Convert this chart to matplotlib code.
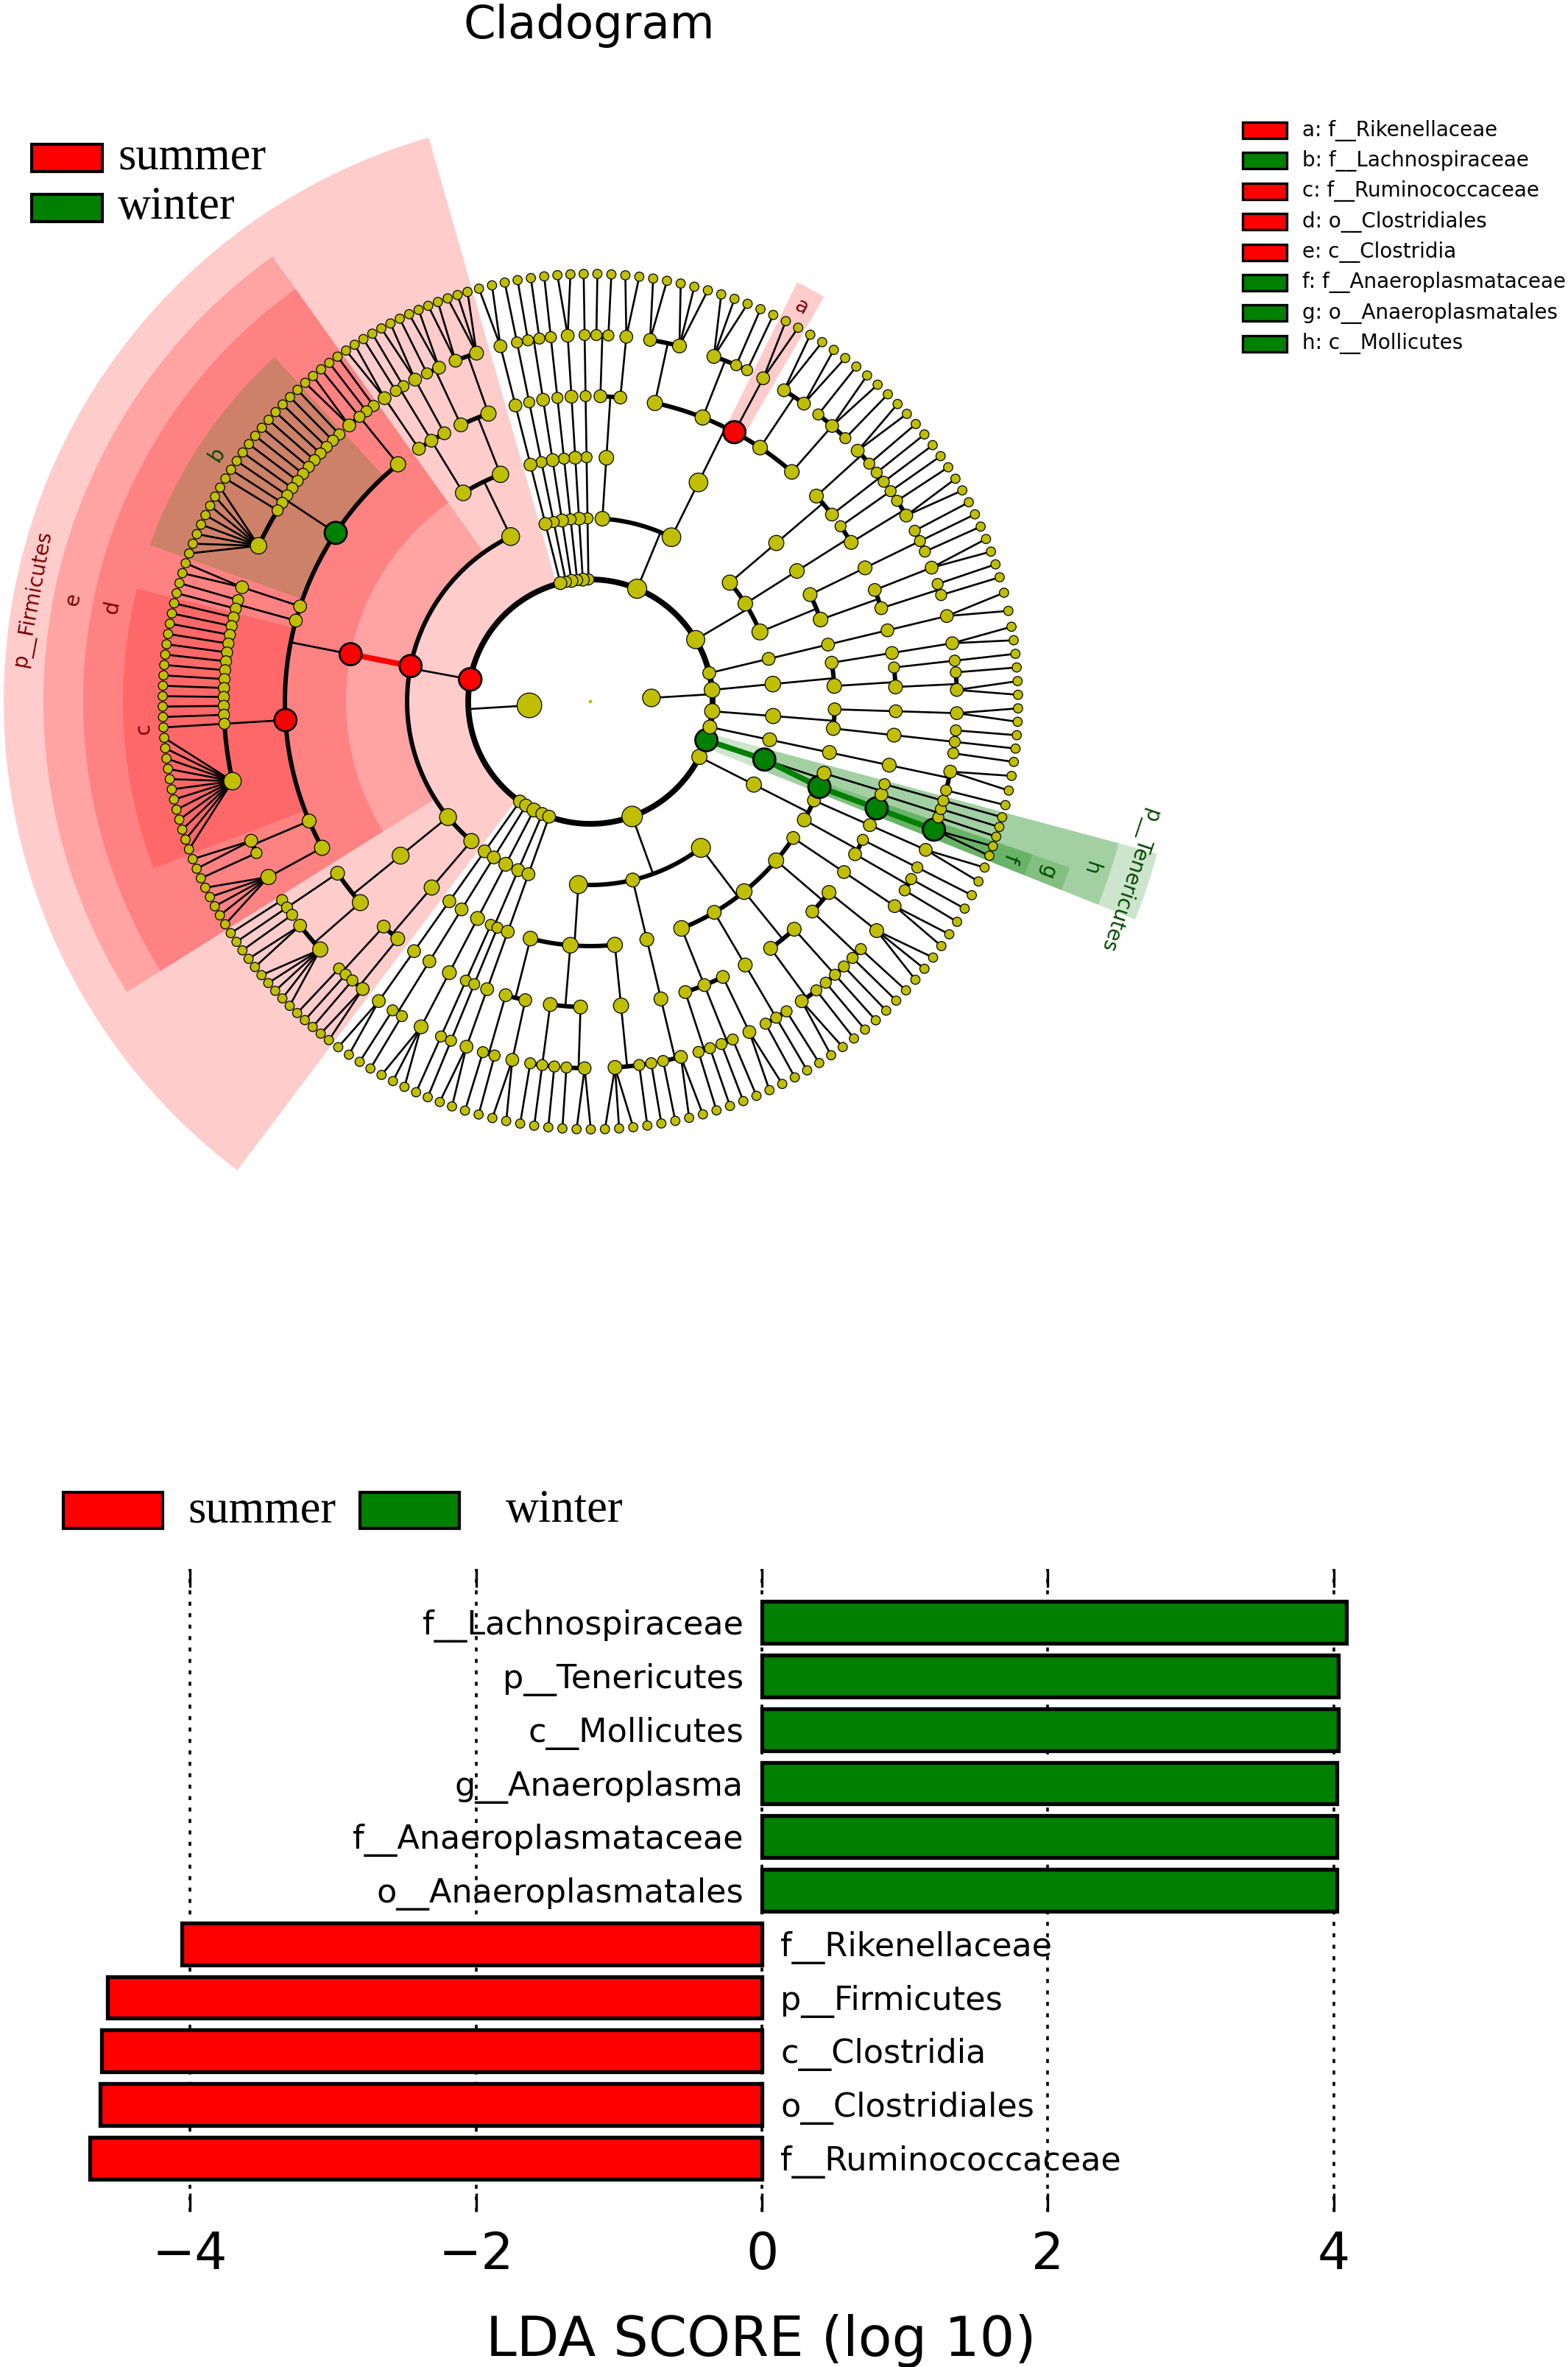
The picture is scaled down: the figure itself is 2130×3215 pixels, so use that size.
import numpy as np
import matplotlib
matplotlib.use("Agg")
import matplotlib.pyplot as plt
from matplotlib.patches import Wedge, Rectangle

W, H, DPI = 2130, 3215, 100

# ======================= DATA =======================
# Cladogram. Phyla in counter-clockwise order. Each phylum is nested as
# classes > orders > families > genera, a genus being the number of its species.
PHYLUM_NAMES = ["p__Actinobacteria", "p__Bacteroidetes",
                "p__Cyanobacteria", "p__Elusimicrobia", "p__Fibrobacteres",
                "p__Lentisphaerae", "p__Planctomycetes", "p__Chloroflexi",
                "p__Firmicutes",
                "p__Spirochaetes", "p__Synergistetes", "p__TM7", "p__WPS_2",
                "p__Fusobacteria",
                "p__Proteobacteria", "p__Verrucomicrobia", "p__Tenericutes",
                "p__SR1", "p__Euryarchaeota", "p__Crenarchaeota", "p__Parvarchaeota"]
PHYLUM_KINGDOM = ["k__Bacteria"] * 18 + ["k__Archaea"] * 3
PHYLUM_START = [16.0, 45.0, 90.0, 91.8, 95.3, 97.1, 100.7, 102.4, 106.0,
                233.0, 236.5, 239.9, 245.1, 248.5, 252.0, 328.0, 338.2,
                345.0, 351.0, 360.0, 371.0]
PHYLUM_END = [45.0, 90.0, 91.8, 95.3, 97.1, 100.7, 102.4, 106.0, 233.0,
              236.5, 239.9, 245.1, 248.5, 252.0, 328.0, 338.2, 345.0,
              351.0, 360.0, 371.0, 376.0]
PHYLUM_TREES = [
    [[[[1, 1], [2]], [[1, 1, 1]]], [[[2, 1], [1]]], [[[1, 1], [1, 2]]]],
    [[[[1, 2, 1], [2, 2], [2], [1, 1, 3], [3, 2]]], [[[2], [1, 1]]]],
    [[[[1]]]], [[[[2]]]], [[[[1]]]], [[[[1, 1]]]], [[[[1]]]], [[[[2]]]],
    [[[[3, 2], [2, 1]], [[2], [1, 1], [2]]],
     [[[1, 1, 1, 2],
       [1, 1, 1, 1, 1, 1, 1, 1, 1, 1, 1, 1, 8],
       [2], [1, 1],
       [1, 1, 1, 1, 1, 1, 1, 1, 1, 1, 1, 1, 1, 12],
       [2, 1], [5]]],
     [[[1, 1, 1], [2, 5]]],
     [[[1, 1], [1, 2]]]],
    [[[[2]]]], [[[[1, 1]]]], [[[[3]]]], [[[[1]], [[1]]]], [[[[2]]]],
    [[[[1, 1], [2]], [[1, 1, 1], [1, 2]], [[3, 1, 1]]],
     [[[1, 2]]],
     [[[1, 1], [1, 1], [2]], [[1, 1, 1]], [[2, 1], [1, 1, 1]], [[1, 1], [3]], [[2]]]],
    [[[[1, 1], [1]], [[2]]]],
    [[[[2]], [[1, 1], [1]]]],
    [[[[1, 2]]]],
    [[[[1, 1, 1]], [[2]]]],
    [[[[2, 1], [1]], [[2]]]],
    [[[[2]]]],
]

# Biomarkers shown on the cladogram
HL_PHYLUM = ["p__Firmicutes", "p__Firmicutes", "p__Firmicutes", "p__Firmicutes",
             "p__Firmicutes", "p__Bacteroidetes", "p__Tenericutes", "p__Tenericutes",
             "p__Tenericutes", "p__Tenericutes", "p__Tenericutes"]
HL_PATH = [(), (1,), (1, 0), (1, 0, 4), (1, 0, 1), (0, 0, 2), (), (0,), (0, 0),
           (0, 0, 0), (0, 0, 0, 0)]
HL_NAME = ["p__Firmicutes", "c__Clostridia", "o__Clostridiales", "f__Ruminococcaceae",
           "f__Lachnospiraceae", "f__Rikenellaceae", "p__Tenericutes", "c__Mollicutes",
           "o__Anaeroplasmatales", "f__Anaeroplasmataceae", "g__Anaeroplasma"]
HL_CLASS = ["summer", "summer", "summer", "summer", "winter", "summer",
            "winter", "winter", "winter", "winter", "winter"]
HL_LETTER = ["", "e", "d", "c", "b", "a", "", "h", "g", "f", None]
HL_EDGES = [("c__Clostridia", "o__Clostridiales"),
            ("p__Tenericutes", "c__Mollicutes"),
            ("c__Mollicutes", "o__Anaeroplasmatales"),
            ("o__Anaeroplasmatales", "f__Anaeroplasmataceae"),
            ("f__Anaeroplasmataceae", "g__Anaeroplasma")]

CLADO_KEY_TEXT = ["a: f__Rikenellaceae", "b: f__Lachnospiraceae", "c: f__Ruminococcaceae",
                  "d: o__Clostridiales", "e: c__Clostridia", "f: f__Anaeroplasmataceae",
                  "g: o__Anaeroplasmatales", "h: c__Mollicutes"]
CLADO_KEY_CLASS = ["summer", "winter", "summer", "summer", "summer", "winter", "winter", "winter"]

# LDA bar chart (top to bottom)
BAR_LABELS = ["f__Lachnospiraceae", "p__Tenericutes", "c__Mollicutes", "g__Anaeroplasma",
              "f__Anaeroplasmataceae", "o__Anaeroplasmatales", "f__Rikenellaceae",
              "p__Firmicutes", "c__Clostridia", "o__Clostridiales", "f__Ruminococcaceae"]
BAR_LDA = [4.09, 4.03, 4.03, 4.02, 4.02, 4.02, -4.06, -4.58, -4.62, -4.63, -4.70]
BAR_CLASS = ["winter"] * 6 + ["summer"] * 5
BAR_TICKS = [-4, -2, 0, 2, 4]

CLASSES = ["summer", "winter"]
CLASS_COLOR = {"summer": "#FF0000", "winter": "#008000"}
LABEL_COLOR = {"summer": "#7a0000", "winter": "#004a00"}
NODE_COLOR = "#BFBF00"

# ======================= FIGURE =======================
fig = plt.figure(figsize=(W / DPI, H / DPI), dpi=DPI)


def fx(px):
    return px / W


def fy(py):
    return 1 - py / H


# ---------------- build tree ----------------
nodes = []


def add(level, theta, lo, hi, n):
    nodes.append(dict(level=level, theta=theta, lo=lo, hi=hi, n=n, ch=[]))
    return len(nodes) - 1


def count(spec, level):
    if level == 6:
        return spec
    return sum(count(s, level + 1) for s in spec)


def build(spec, level, a0, s):
    if level == 6:
        k = spec
        idx = add(6, a0 + k * s / 2, a0, a0 + k * s, k)
        for j in range(k):
            c = add(7, a0 + (j + 0.5) * s, a0 + j * s, a0 + (j + 1) * s, 1)
            nodes[idx]["ch"].append(c)
        return idx, k
    ch, n, a = [], 0, a0
    for sub in spec:
        c, m = build(sub, level + 1, a, s)
        ch.append(c)
        a += m * s
        n += m
    idx = add(level, a0 + n * s / 2, a0, a0 + n * s, n)
    nodes[idx]["ch"] = ch
    return idx, n


phylum_idx = {}
for name, a0, a1, tree in zip(PHYLUM_NAMES, PHYLUM_START, PHYLUM_END, PHYLUM_TREES):
    n = count(tree, 2)
    idx, _ = build(tree, 2, a0, (a1 - a0) / n)
    phylum_idx[name] = idx

kingdoms = []
for kname in ["k__Bacteria", "k__Archaea"]:
    ch = [phylum_idx[p] for p, k in zip(PHYLUM_NAMES, PHYLUM_KINGDOM) if k == kname]
    lo = min(nodes[c]["lo"] for c in ch)
    hi = max(nodes[c]["hi"] for c in ch)
    n = sum(nodes[c]["n"] for c in ch)
    ki = add(1, (lo + hi) / 2, lo, hi, n)
    nodes[ki]["ch"] = ch
    kingdoms.append(ki)
root = add(0, 0.0, 0.0, 360.0, sum(nodes[k]["n"] for k in kingdoms))
nodes[root]["ch"] = kingdoms

hl_node = {}
for pname, path, name in zip(HL_PHYLUM, HL_PATH, HL_NAME):
    i = phylum_idx[pname]
    for p in path:
        i = nodes[i]["ch"][p]
    hl_node[name] = i

# ---------------- cladogram axes ----------------
CX, CY, STEP, HALF = 802, 953, 83.0, 850
axc = fig.add_axes([fx(CX - HALF), fy(CY + HALF), 2 * HALF / W, 2 * HALF / H])
lim = HALF / STEP
axc.set_xlim(-lim, lim)
axc.set_ylim(-lim, lim)
axc.set_axis_off()


def pol(r, t):
    tr = np.radians(t)
    return r * np.cos(tr), r * np.sin(tr)


def arc(r, t1, t2, **kw):
    t = np.radians(np.linspace(t1, t2, max(3, int(abs(t2 - t1) * 4))))
    axc.plot(r * np.cos(t), r * np.sin(t), solid_capstyle="butt", **kw)


def seg(p, q, **kw):
    axc.plot([p[0], q[0]], [p[1], q[1]], **kw)


LEAF_R = 7.0
BAND = 54.0 / STEP

# shaded clades
order = sorted(range(len(HL_NAME)), key=lambda k: nodes[hl_node[HL_NAME[k]]]["level"])
for k in order:
    if HL_LETTER[k] is None:
        continue
    nd = nodes[hl_node[HL_NAME[k]]]
    lev = nd["level"]
    r_out = LEAF_R + (6 - lev) * BAND
    col = CLASS_COLOR[HL_CLASS[k]]
    axc.add_patch(Wedge((0, 0), r_out, nd["lo"], nd["hi"], width=r_out - lev,
                        facecolor=col, alpha=0.2, edgecolor="none", zorder=1))
    txt = HL_NAME[k] if HL_LETTER[k] == "" else HL_LETTER[k]
    mid = (nd["lo"] + nd["hi"]) / 2
    x, y = pol(r_out - BAND / 2, mid)
    axc.text(x, y, txt, rotation=mid - 90, rotation_mode="anchor", ha="center",
             va="center", fontsize=20, color=LABEL_COLOR[HL_CLASS[k]], zorder=6)

# branches
THIN, THICK = 1.9, 4.3
arc(2.0, 0, 360, color="k", lw=5.6, zorder=2)
for nd in nodes:
    lev = nd["level"]
    if lev < 1 or not nd["ch"]:
        continue
    ch = nd["ch"]
    if lev == 1:
        seg(pol(1, nd["theta"]), pol(2, nd["theta"]), color="k", lw=THIN, zorder=2)
        continue
    if len(ch) == 1 or lev == 6:
        for c in ch:
            seg(pol(lev, nd["theta"]), pol(lev + 1, nodes[c]["theta"]),
                color="k", lw=THIN, zorder=2)
    else:
        seg(pol(lev, nd["theta"]), pol(lev + 1, nd["theta"]), color="k", lw=THIN, zorder=2)
        ts = [nodes[c]["theta"] for c in ch]
        arc(lev + 1, min(ts), max(ts), color="k", lw=THICK, zorder=2)

hl_class_of = dict(zip(HL_NAME, HL_CLASS))
for a, b in HL_EDGES:
    na, nb = nodes[hl_node[a]], nodes[hl_node[b]]
    seg(pol(na["level"], na["theta"]), pol(nb["level"], nb["theta"]),
        color=CLASS_COLOR[hl_class_of[b]], lw=5.5, solid_capstyle="butt", zorder=3)

# nodes
node_col = {i: NODE_COLOR for i in range(len(nodes))}
hl_set = {}
for name, cls in zip(HL_NAME, HL_CLASS):
    node_col[hl_node[name]] = CLASS_COLOR[cls]
    hl_set[hl_node[name]] = cls

xs, ys, ss, cs, lws = [], [], [], [], []
for i in sorted(range(len(nodes)), key=lambda j: -nodes[j]["level"]):
    nd = nodes[i]
    x, y = pol(nd["level"], nd["theta"])
    if nd["level"] == 0:
        d = 5.0
    elif nd["level"] == 7:
        d = 12.5
    else:
        d = 15.0 + 8.0 * np.log10(nd["n"])
    if i in hl_set:
        d = max(d, 30.0)
    xs.append(x); ys.append(y)
    ss.append((d * 72 / DPI) ** 2)
    cs.append(node_col[i])
    lws.append(2.0 if i in hl_set else (0.0 if nd["level"] == 0 else 0.9))
axc.scatter(xs, ys, s=ss, c=cs, edgecolors="k", linewidths=lws, zorder=4)

# ---------------- titles / legends of cladogram ----------------
fig.text(fx(800), fy(52), "Cladogram", ha="center", va="baseline", fontsize=45)


def fig_rect(x0, y0, w, h, col, lw):
    fig.add_artist(Rectangle((fx(x0), fy(y0 + h)), w / W, h / H, transform=fig.transFigure,
                             facecolor=col, edgecolor="k", lw=lw))


for i, cls in enumerate(CLASSES):
    y0 = 196 + 68 * i
    fig_rect(43, y0, 96, 37, CLASS_COLOR[cls], 3.0)
    fig.text(fx(160), fy(y0 + 18), cls, ha="left", va="center", fontsize=45,
             family="Liberation Serif")

for i, (t, cls) in enumerate(zip(CLADO_KEY_TEXT, CLADO_KEY_CLASS)):
    yc = 177 + 41.4 * i
    fig_rect(1688, yc - 11, 60, 22, CLASS_COLOR[cls], 2.4)
    fig.text(fx(1769), fy(yc), t, ha="left", va="center", fontsize=20)

# ---------------- LDA bar chart ----------------
AX_L, AX_R, AX_T, AX_B = 40, 2028, 2131, 3004
X0_PX, UNIT = 1035, 194.2
axb = fig.add_axes([fx(AX_L), fy(AX_B), (AX_R - AX_L) / W, (AX_B - AX_T) / H])
axb.set_xlim((AX_L - X0_PX) / UNIT, (AX_R - X0_PX) / UNIT)
axb.set_ylim(len(BAR_LABELS), -1)
ypos = np.arange(len(BAR_LABELS))
axb.barh(ypos, BAR_LDA, height=0.78, color=[CLASS_COLOR[c] for c in BAR_CLASS],
         edgecolor="k", linewidth=3.8, zorder=3)
for yv, v, lab in zip(ypos, BAR_LDA, BAR_LABELS):
    if v > 0:
        axb.text(-0.13, yv + 0.07, lab, ha="right", va="center", fontsize=32, zorder=4)
    else:
        axb.text(0.13, yv + 0.07, lab, ha="left", va="center", fontsize=32, zorder=4)
for s in axb.spines.values():
    s.set_visible(False)
axb.set_xticks(BAR_TICKS)
axb.set_yticks([])
axb.tick_params(axis="x", direction="in", length=18, width=2.4, top=True, bottom=True,
                labelsize=50, pad=18)
axb.xaxis.grid(True, color="k", lw=2.6, linestyle=(0, (1.5, 2.8)), zorder=5)
axb.set_axisbelow(False)
axb.patch.set_alpha(0)
fig.text(fx(1034), fy(3200), "LDA SCORE (log 10)", ha="center", va="baseline", fontsize=54)

# bar legend
for i, cls in enumerate(CLASSES):
    x0 = 86 + 403 * i
    fig_rect(x0, 2027, 135, 49, CLASS_COLOR[cls], 3.0)
    fig.text(fx(x0 + 169 + 29 * i), fy(2052), cls, ha="left", va="center", fontsize=45,
             family="Liberation Serif")

fig.savefig("out.png", dpi=DPI)
